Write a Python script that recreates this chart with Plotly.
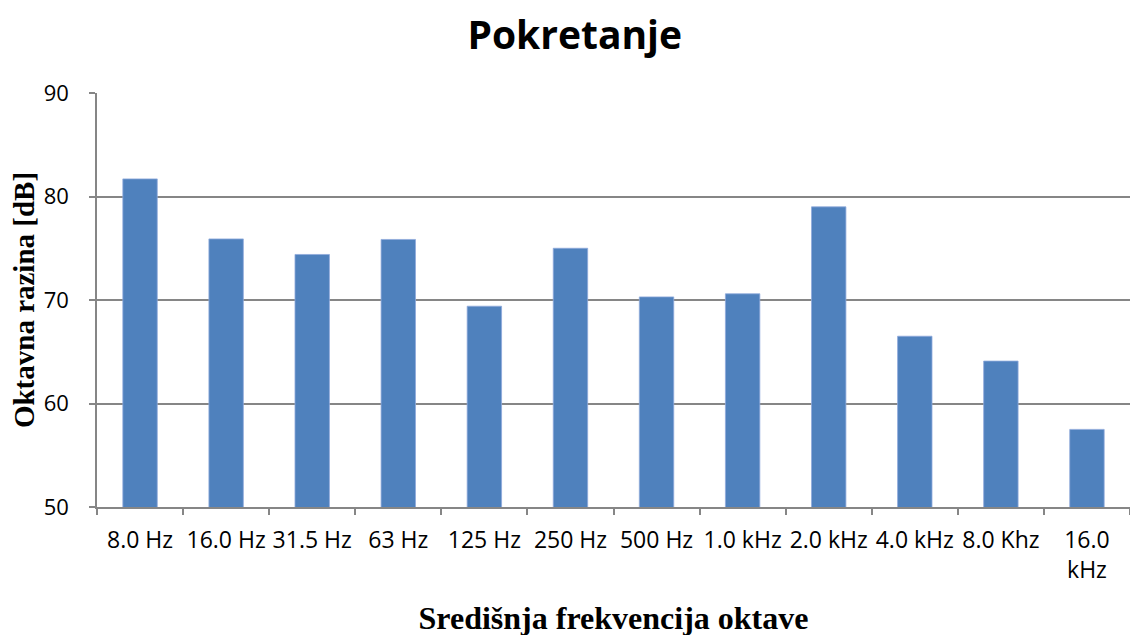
import plotly.graph_objects as go

categories = ["8.0 Hz", "16.0 Hz", "31.5 Hz", "63 Hz", "125 Hz", "250 Hz",
              "500 Hz", "1.0 kHz", "2.0 kHz", "4.0 kHz", "8.0 Khz", "16.0<br>kHz"]
levels_db = [81.7, 75.9, 74.4, 75.85, 69.4, 75.0, 70.3, 70.6, 79.0, 66.5, 64.1, 57.5]
y_ticks = [50, 60, 70, 80, 90]

title_text = "Pokretanje"
x_title = "Središnja frekvencija oktave"
y_title = "Oktavna razina [dB]"

grid_col = "#868686"

fig = go.Figure(go.Bar(
    x=categories, y=levels_db,
    marker=dict(color="#4F81BD", line=dict(color="#8FAADC", width=0.8)),
))

# page body has an 8px margin; compensate so the plot lands where the reference has it
fig.update_layout(
    width=1138, height=635,
    paper_bgcolor="white", plot_bgcolor="white",
    margin=dict(l=89, r=16, t=85, b=136, autoexpand=False),
    bargap=0.6,
    showlegend=False,
    title=dict(text="<b>" + title_text + "</b>", x=0.498, xanchor="center",
               y=1 - 27 / 635, yanchor="middle", yref="container",
               font=dict(family="Open Sans", size=39, color="black")),
    font=dict(family="Open Sans", color="black"),
)

fig.update_xaxes(
    type="category",
    automargin=False,
    showgrid=False,
    showline=True, linecolor=grid_col, linewidth=1.5,
    ticks="outside", tickson="boundaries", ticklen=6, tickcolor=grid_col, tickwidth=1.5,
    tickangle=0,
    tickfont=dict(family="Open Sans", size=23, color="black"),
    ticklabelstandoff=12,
    title=dict(text="<b>" + x_title + "</b>", standoff=22,
               font=dict(family="Liberation Serif", size=32, color="black")),
)

fig.update_yaxes(
    automargin=False,
    range=[50, 90], tickvals=y_ticks,
    showgrid=True, gridcolor=grid_col, gridwidth=1.5,
    showline=True, linecolor=grid_col, linewidth=1.5,
    ticks="outside", ticklen=6, tickcolor=grid_col, tickwidth=1.5,
    tickfont=dict(family="Open Sans", size=22, color="black"),
    ticklabelstandoff=16,
    zeroline=False,
    title=dict(text="<b>" + y_title + "</b>", standoff=4,
               font=dict(family="Liberation Serif", size=29, color="black")),
)

fig.write_html("out.html")
